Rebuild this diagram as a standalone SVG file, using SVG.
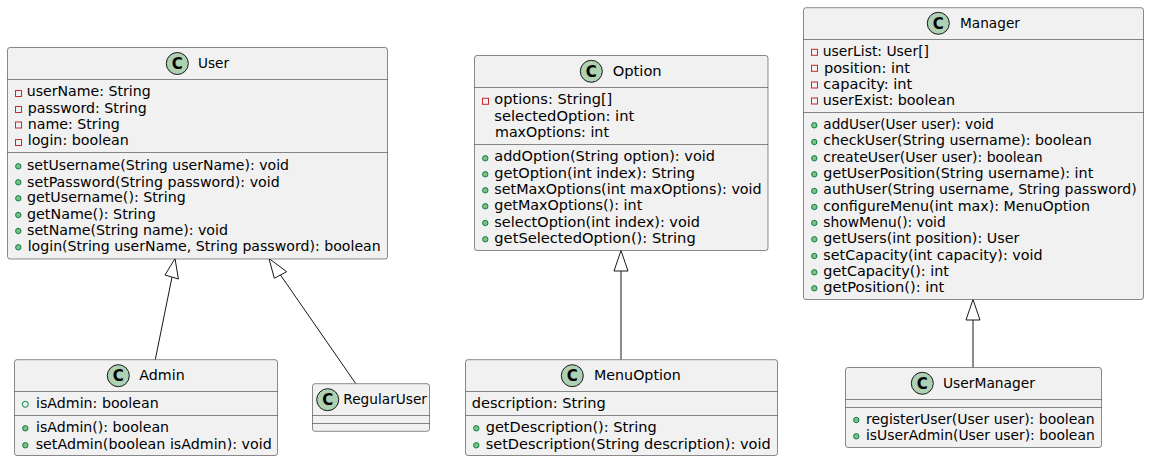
<svg xmlns="http://www.w3.org/2000/svg" width="1149" height="461" viewBox="0 0 1149 461">
<style>
.box{fill:#F1F1F1;stroke:#181818;stroke-width:.5}
.sep{stroke:#181818;stroke-width:.5;fill:none}
.ci{fill:#ADD1B2;stroke:#181818;stroke-width:1}
.c{font:bold 15px "DejaVu Sans",sans-serif;fill:#000;text-anchor:middle}
text{font-family:"DejaVu Sans",sans-serif;font-size:14px;fill:#000}
.pr{fill:none;stroke:#C82930;stroke-width:1}
.pu{fill:#84BE84;stroke:#038048;stroke-width:1}
.po{fill:none;stroke:#038048;stroke-width:1}
.ln{stroke:#181818;stroke-width:1;fill:none}
.hd{stroke:#181818;stroke-width:1;fill:#fff}
</style>
<defs>
<rect id="p" class="pr" x="0" y="0" width="6" height="6"/>
<circle id="u" class="pu" cx="0" cy="0" r="2.7"/>
<circle id="o" class="po" cx="0" cy="0" r="3"/>
</defs>
<g id="connectors">
<path class="ln" d="M155.3 359.5L172 277"/><polygon class="hd" points="175,258.5 165,275 178.4,279"/>
<path class="ln" d="M355.7 383.5L280.5 275"/><polygon class="hd" points="269,258.5 274.3,278.3 286.7,271.7"/>
<path class="ln" d="M621 359.5V271"/><polygon class="hd" points="621,250.5 614,271 628,271"/>
<path class="ln" d="M973 367.5V320"/><polygon class="hd" points="973,299.5 966,320 980,320"/>
</g>
<g id="User">
<rect class="box" x="7.5" y="47.5" width="380" height="211.5" rx="2.5"/>
<path class="sep" d="M7.5 79.5H387.5M7.5 152.5H387.5"/>
<circle class="ci" cx="177.3" cy="63.5" r="11"/><text class="c" x="177.3" y="69">C</text>
<text x="198" y="68" textLength="31" lengthAdjust="spacingAndGlyphs">User</text>
<use href="#p" x="15.5" y="90.5"/><text x="26.7" y="96" textLength="124" lengthAdjust="spacingAndGlyphs">userName: String</text>
<use href="#p" x="15.5" y="106.5"/><text x="27.7" y="113" textLength="119" lengthAdjust="spacingAndGlyphs">password: String</text>
<use href="#p" x="15.5" y="122"/><text x="27.7" y="129.3" textLength="92" lengthAdjust="spacingAndGlyphs">name: String</text>
<use href="#p" x="15.5" y="139.5"/><text x="27.7" y="145" textLength="101" lengthAdjust="spacingAndGlyphs">login: boolean</text>
<use href="#u" x="18.3" y="166.3"/><text x="27" y="170" textLength="262" lengthAdjust="spacingAndGlyphs">setUsername(String userName): void</text>
<use href="#u" x="18.3" y="182.3"/><text x="27" y="186.7" textLength="252.7" lengthAdjust="spacingAndGlyphs">setPassword(String password): void</text>
<use href="#u" x="18.3" y="198.3"/><text x="27" y="202.3" textLength="158.7" lengthAdjust="spacingAndGlyphs">getUsername(): String</text>
<use href="#u" x="18.3" y="215"/><text x="27" y="219" textLength="128.7" lengthAdjust="spacingAndGlyphs">getName(): String</text>
<use href="#u" x="18.3" y="231"/><text x="27" y="235.3" textLength="201" lengthAdjust="spacingAndGlyphs">setName(String name): void</text>
<use href="#u" x="18.3" y="247.3"/><text x="27.7" y="251.3" textLength="353" lengthAdjust="spacingAndGlyphs">login(String userName, String password): boolean</text>
</g>
<g id="Admin">
<rect class="box" x="14.5" y="359.7" width="263" height="95.8" rx="2.5"/>
<path class="sep" d="M14.5 391.5H277.5M14.5 415.5H277.5"/>
<circle class="ci" cx="118.3" cy="375.7" r="11"/><text class="c" x="118.3" y="381.2">C</text>
<text x="139.3" y="380" textLength="45.4" lengthAdjust="spacingAndGlyphs">Admin</text>
<use href="#o" x="25.3" y="404.3"/><text x="36" y="408.3" textLength="122.7" lengthAdjust="spacingAndGlyphs">isAdmin: boolean</text>
<use href="#u" x="25.3" y="428.3"/><text x="36" y="432.3" textLength="133" lengthAdjust="spacingAndGlyphs">isAdmin(): boolean</text>
<use href="#u" x="25.3" y="445.3"/><text x="35.7" y="449.3" textLength="236" lengthAdjust="spacingAndGlyphs">setAdmin(boolean isAdmin): void</text>
</g>
<g id="RegularUser">
<rect class="box" x="312.5" y="383.7" width="117" height="47.6" rx="2.5"/>
<path class="sep" d="M312.5 415.5H429.5M312.5 423.5H429.5"/>
<circle class="ci" cx="327.7" cy="399.7" r="11"/><text class="c" x="327.7" y="405.2">C</text>
<text x="343.3" y="404" textLength="83.7" lengthAdjust="spacingAndGlyphs">RegularUser</text>
</g>
<g id="Option">
<rect class="box" x="474.5" y="55.5" width="293.5" height="195" rx="2.5"/>
<path class="sep" d="M474.5 87.5H768M474.5 144.5H768"/>
<circle class="ci" cx="591.3" cy="71.3" r="11"/><text class="c" x="591.3" y="76.8">C</text>
<text x="612.7" y="76" textLength="49" lengthAdjust="spacingAndGlyphs">Option</text>
<use href="#p" x="482.5" y="98.3"/><text x="494.3" y="104" textLength="118" lengthAdjust="spacingAndGlyphs">options: String[]</text>
<text x="494.3" y="120.7" textLength="140" lengthAdjust="spacingAndGlyphs">selectedOption: int</text>
<text x="495" y="136.7" textLength="114" lengthAdjust="spacingAndGlyphs">maxOptions: int</text>
<use href="#u" x="485.3" y="158.3"/><text x="494.3" y="161" textLength="220.7" lengthAdjust="spacingAndGlyphs">addOption(String option): void</text>
<use href="#u" x="485.3" y="174.3"/><text x="494.3" y="178" textLength="200.7" lengthAdjust="spacingAndGlyphs">getOption(int index): String</text>
<use href="#u" x="485.3" y="190.3"/><text x="494.3" y="193.7" textLength="267.4" lengthAdjust="spacingAndGlyphs">setMaxOptions(int maxOptions): void</text>
<use href="#u" x="485.3" y="206.3"/><text x="494.3" y="210" textLength="148" lengthAdjust="spacingAndGlyphs">getMaxOptions(): int</text>
<use href="#u" x="485.3" y="223"/><text x="494.3" y="226.7" textLength="205.7" lengthAdjust="spacingAndGlyphs">selectOption(int index): void</text>
<use href="#u" x="485.3" y="239.3"/><text x="494.3" y="243" textLength="201.4" lengthAdjust="spacingAndGlyphs">getSelectedOption(): String</text>
</g>
<g id="MenuOption">
<rect class="box" x="465.5" y="359.7" width="312" height="95.8" rx="2.5"/>
<path class="sep" d="M465.5 391.5H777.5M465.5 415.5H777.5"/>
<circle class="ci" cx="572.3" cy="375.7" r="11"/><text class="c" x="572.3" y="381.2">C</text>
<text x="594" y="380" textLength="86.7" lengthAdjust="spacingAndGlyphs">MenuOption</text>
<text x="471.7" y="408.3" textLength="134" lengthAdjust="spacingAndGlyphs">description: String</text>
<use href="#u" x="476.3" y="428.3"/><text x="485.7" y="432.3" textLength="171" lengthAdjust="spacingAndGlyphs">getDescription(): String</text>
<use href="#u" x="476.3" y="445.3"/><text x="485.7" y="449.3" textLength="285" lengthAdjust="spacingAndGlyphs">setDescription(String description): void</text>
</g>
<g id="Manager">
<rect class="box" x="803.5" y="7.7" width="340" height="291.8" rx="2.5"/>
<path class="sep" d="M803.5 39.5H1143.5M803.5 112.5H1143.5"/>
<circle class="ci" cx="938.3" cy="23.3" r="11"/><text class="c" x="938.3" y="28.8">C</text>
<text x="960" y="28.3" textLength="60" lengthAdjust="spacingAndGlyphs">Manager</text>
<use href="#p" x="811.5" y="49.3"/><text x="822.7" y="56" textLength="106.3" lengthAdjust="spacingAndGlyphs">userList: User[]</text>
<use href="#p" x="811.5" y="65.3"/><text x="824" y="72.7" textLength="86" lengthAdjust="spacingAndGlyphs">position: int</text>
<use href="#p" x="811.5" y="82"/><text x="823.3" y="89.3" textLength="89" lengthAdjust="spacingAndGlyphs">capacity: int</text>
<use href="#p" x="811.5" y="98"/><text x="822.7" y="105" textLength="132.3" lengthAdjust="spacingAndGlyphs">userExist: boolean</text>
<use href="#u" x="814.3" y="125.3"/><text x="823.3" y="129" textLength="170.7" lengthAdjust="spacingAndGlyphs">addUser(User user): void</text>
<use href="#u" x="814.3" y="142"/><text x="823.3" y="145.3" textLength="268.4" lengthAdjust="spacingAndGlyphs">checkUser(String username): boolean</text>
<use href="#u" x="814.3" y="158.3"/><text x="823.3" y="162.3" textLength="219.4" lengthAdjust="spacingAndGlyphs">createUser(User user): boolean</text>
<use href="#u" x="814.3" y="174.3"/><text x="823.3" y="178" textLength="270" lengthAdjust="spacingAndGlyphs">getUserPosition(String username): int</text>
<use href="#u" x="814.3" y="191"/><text x="823.3" y="194" textLength="313.4" lengthAdjust="spacingAndGlyphs">authUser(String username, String password)</text>
<use href="#u" x="814.3" y="207"/><text x="823.3" y="211" textLength="266.7" lengthAdjust="spacingAndGlyphs">configureMenu(int max): MenuOption</text>
<use href="#u" x="814.3" y="223"/><text x="823.3" y="227" textLength="122.4" lengthAdjust="spacingAndGlyphs">showMenu(): void</text>
<use href="#u" x="814.3" y="239.3"/><text x="823.3" y="243" textLength="196" lengthAdjust="spacingAndGlyphs">getUsers(int position): User</text>
<use href="#u" x="814.3" y="256"/><text x="823.3" y="260" textLength="219.4" lengthAdjust="spacingAndGlyphs">setCapacity(int capacity): void</text>
<use href="#u" x="814.3" y="272.3"/><text x="823.3" y="276" textLength="125.7" lengthAdjust="spacingAndGlyphs">getCapacity(): int</text>
<use href="#u" x="814.3" y="288.3"/><text x="823.3" y="292" textLength="121" lengthAdjust="spacingAndGlyphs">getPosition(): int</text>
</g>
<g id="UserManager">
<rect class="box" x="845.5" y="367.5" width="256" height="80" rx="2.5"/>
<path class="sep" d="M845.5 399.5H1101.5M845.5 407.5H1101.5"/>
<circle class="ci" cx="922.3" cy="383.3" r="11"/><text class="c" x="922.3" y="388.8">C</text>
<text x="943" y="388.3" textLength="92" lengthAdjust="spacingAndGlyphs">UserManager</text>
<use href="#u" x="856.3" y="420"/><text x="866" y="424" textLength="228.7" lengthAdjust="spacingAndGlyphs">registerUser(User user): boolean</text>
<use href="#u" x="856.3" y="436.3"/><text x="866" y="440" textLength="228.7" lengthAdjust="spacingAndGlyphs">isUserAdmin(User user): boolean</text>
</g>
</svg>
